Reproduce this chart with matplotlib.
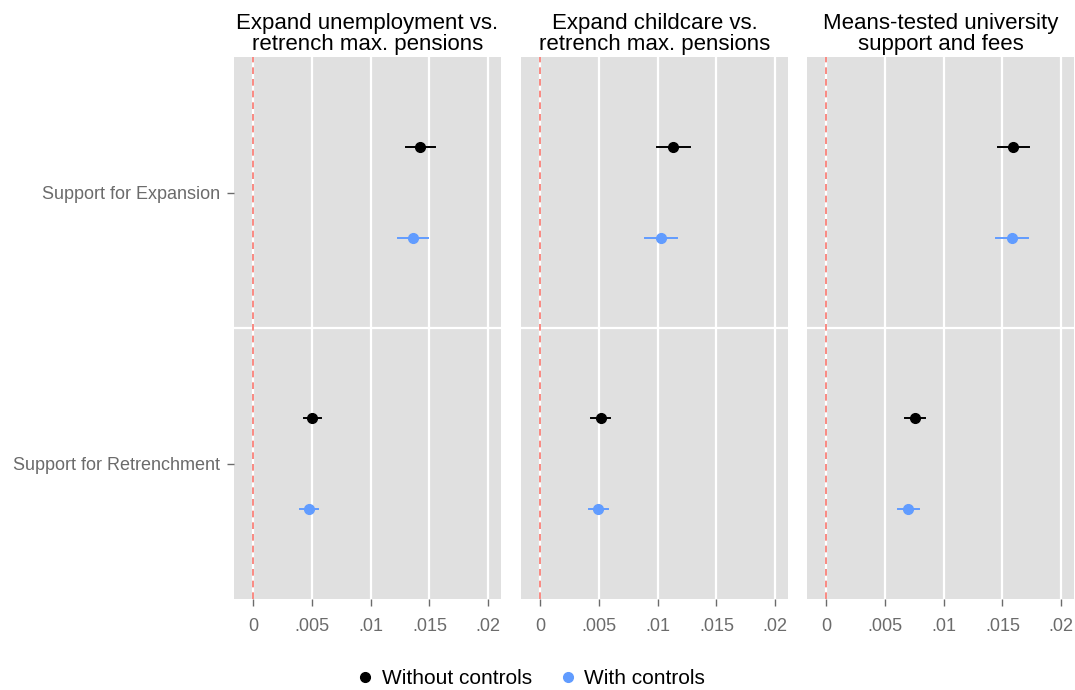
import matplotlib
matplotlib.use("Agg")
import matplotlib.pyplot as plt
from matplotlib.lines import Line2D

plt.rcParams['font.family'] = ['Liberation Sans', 'DejaVu Sans']

# Facet titles and categories
titles = ["Expand unemployment vs.\nretrench max. pensions",
          "Expand childcare vs.\nretrench max. pensions",
          "Means-tested university\nsupport and fees"]
categories = ["Support for Retrenchment", "Support for Expansion"]

# Estimates per facet: [retrenchment, expansion]
est_without = [[0.00501, 0.01421], [0.00514, 0.01134], [0.00754, 0.01589]]
lo_without = [[0.00430, 0.01300], [0.00431, 0.00997], [0.00671, 0.01460]]
hi_without = [[0.00575, 0.01547], [0.00597, 0.01274], [0.00843, 0.01723]]

est_with = [[0.00473, 0.01356], [0.00491, 0.01029], [0.00697, 0.01580]]
lo_with = [[0.00400, 0.01231], [0.00411, 0.00891], [0.00614, 0.01449]]
hi_with = [[0.00547, 0.01487], [0.00574, 0.01166], [0.00789, 0.01717]]

xticks = [0, 0.005, 0.01, 0.015, 0.02]
xticklabels = ["0", ".005", ".01", ".015", ".02"]

black = "#000000"
blue = "#619CFF"
panel_bg = "#E0E0E0"
tick_col = "#6B6B6B"

fig = plt.figure(figsize=(10.75, 6.9), dpi=100)
lefts = [234, 521, 807]
width = 267
bottom = 1 - 599 / 690
height = (599 - 57) / 690

offset = 0.167
for i in range(3):
    ax = fig.add_axes([lefts[i] / 1075, bottom, width / 1075, height])
    ax.set_facecolor(panel_bg)
    for s in ax.spines.values():
        s.set_visible(False)
    ax.set_xlim(-0.00165, 0.0211)
    ax.set_ylim(0.5, 2.5)
    ax.set_xticks(xticks)
    ax.set_xticklabels(xticklabels)
    ax.set_yticks([1, 2])
    ax.grid(True, axis='x', color='white', linewidth=1.6)
    ax.set_axisbelow(True)
    ax.axhline(1.5, color='white', linewidth=1.6, zorder=0.5)
    ax.tick_params(axis='both', colors=tick_col, labelsize=13, length=5,
                   width=1, pad=5)
    ax.tick_params(axis='x', pad=9)
    if i == 0:
        ax.set_yticklabels(categories)
    else:
        ax.set_yticklabels([])
        ax.tick_params(axis='y', length=0)
    ax.axvline(0, color='#F8766D', linestyle=(0, (4, 3)), linewidth=1.2,
               zorder=1)

    for j in range(2):
        yb = j + 1 + offset
        yw = j + 1 - offset
        ax.plot([lo_without[i][j], hi_without[i][j]], [yb, yb], color=black,
                linewidth=1.4, zorder=3)
        ax.plot(est_without[i][j], yb, 'o', color=black, markersize=7,
                zorder=4)
        ax.plot([lo_with[i][j], hi_with[i][j]], [yw, yw], color=blue,
                linewidth=1.4, zorder=3)
        ax.plot(est_with[i][j], yw, 'o', color=blue, markersize=7, zorder=4)

    ax.set_title(titles[i], fontsize=16, color='black', pad=5,
                 linespacing=1.0)

handles = [Line2D([], [], marker='o', linestyle='none', color=black,
                  markersize=7),
           Line2D([], [], marker='o', linestyle='none', color=blue,
                  markersize=7)]
fig.legend(handles, ["Without controls", "With controls"], loc='center',
           bbox_to_anchor=(530 / 1075, 1 - 679 / 690), ncol=2, frameon=False,
           fontsize=15, handletextpad=0.3, columnspacing=1.2,
           handlelength=1.0)

fig.savefig("out.png", dpi=100)
